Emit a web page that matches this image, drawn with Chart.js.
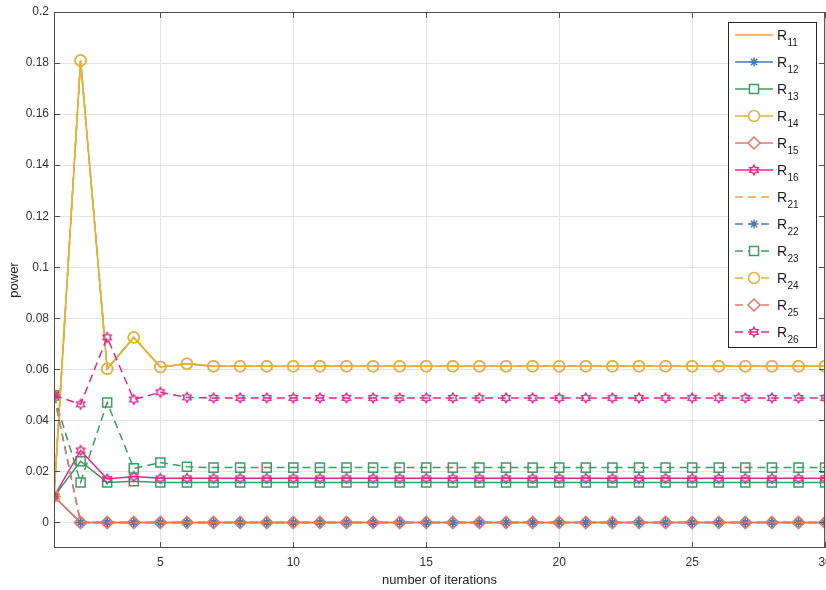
<!DOCTYPE html>
<html>
<head>
<meta charset="utf-8">
<script src="https://cdn.jsdelivr.net/npm/chart.js@4.4.0/dist/chart.umd.min.js"></script>
<style>
  html, body { margin: 0; padding: 0; background: #fff; overflow: hidden; }
  /* wider than the window: the right end of the axis is cut like in the figure */
  #wrap { width: 830px; height: 590px; position: relative; }
</style>
</head>
<body>
<div id="wrap"><canvas id="chart"></canvas></div>
<script>
// iterations (x) and tick values
const iterations = [1,2,3,4,5,6,7,8,9,10,11,12,13,14,15,16,17,18,19,20,21,22,23,24,25,26,27,28,29,30];
const xTicks = [5, 10, 15, 20, 25, 30];
const yTicks = [0, 0.02, 0.04, 0.06, 0.08, 0.1, 0.12, 0.14, 0.16, 0.18, 0.2];

// power per iteration
const r11 = [0.0102,0.181,0.0602,0.0725,0.0609,0.0622,0.0612,0.0612,0.0612,0.0612,0.0612,0.0612,0.0612,0.0612,0.0612,0.0612,0.0612,0.0612,0.0612,0.0612,0.0612,0.0612,0.0612,0.0612,0.0612,0.0612,0.0612,0.0612,0.0612,0.0612];
const r12 = [0.0102,0,0,0,0,0,0,0,0,0,0,0,0,0,0,0,0,0,0,0,0,0,0,0,0,0,0,0,0,0];
const r13 = [0.0102,0.0240,0.0157,0.0162,0.0157,0.0157,0.0157,0.0157,0.0157,0.0157,0.0157,0.0157,0.0157,0.0157,0.0157,0.0157,0.0157,0.0157,0.0157,0.0157,0.0157,0.0157,0.0157,0.0157,0.0157,0.0157,0.0157,0.0157,0.0157,0.0157];
const r14 = [0.0102,0.181,0.0602,0.0725,0.0609,0.0622,0.0612,0.0612,0.0612,0.0612,0.0612,0.0612,0.0612,0.0612,0.0612,0.0612,0.0612,0.0612,0.0612,0.0612,0.0612,0.0612,0.0612,0.0612,0.0612,0.0612,0.0612,0.0612,0.0612,0.0612];
const r15 = [0.0102,0,0,0,0,0,0,0,0,0,0,0,0,0,0,0,0,0,0,0,0,0,0,0,0,0,0,0,0,0];
const r16 = [0.0102,0.0282,0.0170,0.0180,0.0173,0.0173,0.0173,0.0173,0.0173,0.0173,0.0173,0.0173,0.0173,0.0173,0.0173,0.0173,0.0173,0.0173,0.0173,0.0173,0.0173,0.0173,0.0173,0.0173,0.0173,0.0173,0.0173,0.0173,0.0173,0.0173];
const r21 = [0.0102,0.181,0.0602,0.0725,0.0609,0.0622,0.0612,0.0612,0.0612,0.0612,0.0612,0.0612,0.0612,0.0612,0.0612,0.0612,0.0612,0.0612,0.0612,0.0612,0.0612,0.0612,0.0612,0.0612,0.0612,0.0612,0.0612,0.0612,0.0612,0.0612];
const r22 = [0.0498,0,0,0,0,0,0,0,0,0,0,0,0,0,0,0,0,0,0,0,0,0,0,0,0,0,0,0,0,0];
const r23 = [0.0498,0.0157,0.0470,0.0212,0.0235,0.0218,0.0215,0.0215,0.0215,0.0215,0.0215,0.0215,0.0215,0.0215,0.0215,0.0215,0.0215,0.0215,0.0215,0.0215,0.0215,0.0215,0.0215,0.0215,0.0215,0.0215,0.0215,0.0215,0.0215,0.0215];
const r24 = [0.0102,0.181,0.0602,0.0725,0.0609,0.0622,0.0612,0.0612,0.0612,0.0612,0.0612,0.0612,0.0612,0.0612,0.0612,0.0612,0.0612,0.0612,0.0612,0.0612,0.0612,0.0612,0.0612,0.0612,0.0612,0.0612,0.0612,0.0612,0.0612,0.0612];
const r25 = [0.0498,0,0,0,0,0,0,0,0,0,0,0,0,0,0,0,0,0,0,0,0,0,0,0,0,0,0,0,0,0];
const r26 = [0.0498,0.0463,0.0725,0.0482,0.0510,0.0490,0.0488,0.0488,0.0488,0.0488,0.0488,0.0488,0.0488,0.0488,0.0488,0.0488,0.0488,0.0488,0.0488,0.0488,0.0488,0.0488,0.0488,0.0488,0.0488,0.0488,0.0488,0.0488,0.0488,0.0488];

const ORANGE = '#E9A23C', BLUE = '#4A79B2', GREEN = '#3E9B63', GOLD = '#E0B23E', SALMON = '#E27868', MAGENTA = '#E0288A';
const AXIS = '#4d4d4d';
const PLOT_RIGHT = 825;
Chart.defaults.font.family = '"Liberation Sans", Arial, sans-serif';

// matlab-ish hexagram marker
function hexagram(color) {
  const c = document.createElement('canvas');
  c.width = 14; c.height = 14;
  const g = c.getContext('2d');
  g.strokeStyle = color;
  g.lineWidth = 1.4;
  const R = 4.8, r = R / Math.sqrt(3);
  g.beginPath();
  for (let k = 0; k < 12; k++) {
    const a = -Math.PI / 2 + k * Math.PI / 6;
    const rad = k % 2 ? r : R;
    const px = 7 + rad * Math.cos(a), py = 7 + rad * Math.sin(a);
    k ? g.lineTo(px, py) : g.moveTo(px, py);
  }
  g.closePath();
  g.stroke();
  return c;
}
const hexMag = hexagram(MAGENTA);

const series = [
  { name: '11', data: r11, color: ORANGE, dash: [], style: 'circle', radius: 0 },
  { name: '12', data: r12, color: BLUE, dash: [], style: 'star', radius: 4.5 },
  { name: '13', data: r13, color: GREEN, dash: [], style: 'rect', radius: 6.4 },
  { name: '14', data: r14, color: GOLD, dash: [], style: 'circle', radius: 5.5 },
  { name: '15', data: r15, color: SALMON, dash: [], style: 'rectRot', radius: 6 },
  { name: '16', data: r16, color: MAGENTA, dash: [], style: hexMag, radius: 5 },
  { name: '21', data: r21, color: ORANGE, dash: [8, 5], style: 'circle', radius: 0 },
  { name: '22', data: r22, color: BLUE, dash: [8, 5], style: 'star', radius: 4.5 },
  { name: '23', data: r23, color: GREEN, dash: [8, 5], style: 'rect', radius: 6.4 },
  { name: '24', data: r24, color: GOLD, dash: [8, 5], style: 'circle', radius: 5.5 },
  { name: '25', data: r25, color: SALMON, dash: [8, 5], style: 'rectRot', radius: 6 },
  { name: '26', data: r26, color: MAGENTA, dash: [8, 5], style: hexMag, radius: 5 }
];

// box with inward ticks on all four sides
const framePlugin = {
  id: 'frame',
  afterDatasetsDraw(chart) {
    const { ctx, chartArea: a, scales: { x, y } } = chart;
    ctx.save();
    ctx.strokeStyle = AXIS;
    ctx.lineWidth = 1;
    ctx.strokeRect(a.left + 0.5, a.top + 0.5, a.right - a.left - 1, a.bottom - a.top - 1);
    ctx.beginPath();
    xTicks.forEach(v => {
      const px = Math.round(x.getPixelForValue(v)) + 0.5;
      ctx.moveTo(px, a.bottom); ctx.lineTo(px, a.bottom - 6);
      ctx.moveTo(px, a.top); ctx.lineTo(px, a.top + 6);
    });
    yTicks.forEach(v => {
      const py = Math.round(y.getPixelForValue(v)) + 0.5;
      ctx.moveTo(a.left, py); ctx.lineTo(a.left + 6, py);
      ctx.moveTo(a.right, py); ctx.lineTo(a.right - 6, py);
    });
    ctx.stroke();
    ctx.restore();
  }
};

// legend with subscripts, drawn by hand
const legendPlugin = {
  id: 'subLegend',
  afterDraw(chart) {
    const ctx = chart.ctx;
    const bx = 728, by = 22, bw = 88, bh = 325;
    ctx.save();
    ctx.fillStyle = '#fff';
    ctx.fillRect(bx, by, bw, bh);
    ctx.strokeStyle = '#262626';
    ctx.lineWidth = 1;
    ctx.strokeRect(bx + 0.5, by + 0.5, bw, bh);
    series.forEach((s, i) => {
      const ly = 35 + i * 27;
      ctx.strokeStyle = s.color;
      ctx.lineWidth = 1.5;
      ctx.setLineDash(s.dash.length ? [8, 5] : []);
      ctx.beginPath();
      ctx.moveTo(735, ly); ctx.lineTo(773, ly);
      ctx.stroke();
      ctx.setLineDash([]);
      if (s.radius > 0) {
        ctx.fillStyle = '#fff';
        ctx.strokeStyle = s.color;
        ctx.lineWidth = 1.5;
        Chart.helpers.drawPoint(ctx, { pointStyle: s.style, radius: s.radius, borderWidth: 1.5, rotation: 0 }, 754, ly);
      }
      ctx.fillStyle = '#1a1a1a';
      ctx.textBaseline = 'alphabetic';
      ctx.textAlign = 'left';
      ctx.font = '14px "Liberation Sans", Arial, sans-serif';
      ctx.fillText('R', 777, ly + 5);
      ctx.font = '10px "Liberation Sans", Arial, sans-serif';
      ctx.fillText(s.name, 787.5, ly + 11);
    });
    ctx.restore();
  }
};

const chart = new Chart(document.getElementById('chart'), {
  type: 'line',
  data: {
    datasets: series.map((s, i) => ({
      label: 'R' + s.name,
      data: s.data.map((v, k) => ({ x: iterations[k], y: v })),
      borderColor: s.color,
      borderWidth: 1.5,
      borderDash: s.dash,
      pointStyle: s.style,
      pointRadius: s.radius,
      pointBorderColor: s.color,
      pointBackgroundColor: 'rgba(0,0,0,0)',
      pointBorderWidth: 1.5,
      fill: false,
      tension: 0,
      order: series.length - i
    }))
  },
  options: {
    responsive: true,
    maintainAspectRatio: false,
    animation: false,
    events: [],
    layout: { padding: { top: 12, right: 0, left: 0, bottom: 0 } },
    plugins: { legend: { display: false }, tooltip: { enabled: false } },
    scales: {
      x: {
        type: 'linear',
        min: 1,
        max: 30,
        afterBuildTicks: s => { s.ticks = xTicks.map(v => ({ value: v })); },
        afterFit: s => { s.height = 42; s.paddingLeft = 0; s.paddingRight = 0; },
        grid: { color: '#e3e3e3', drawTicks: false },
        border: { display: false },
        ticks: { color: '#333', font: { size: 12 }, padding: 7, maxRotation: 0 },
        title: { display: true, text: 'number of iterations', color: '#262626', font: { size: 13 }, padding: { top: 0, bottom: 2 } }
      },
      y: {
        min: -0.01,
        max: 0.2,
        afterBuildTicks: s => { s.ticks = yTicks.map(v => ({ value: v })); },
        afterFit: s => { s.width = 54; s.paddingTop = 0; s.paddingBottom = 0; },
        grid: { color: '#e3e3e3', drawTicks: false },
        border: { display: false },
        ticks: { color: '#333', font: { size: 12 }, padding: 5, callback: v => String(parseFloat(Number(v).toFixed(2))) },
        title: { display: true, text: 'power', color: '#262626', font: { size: 13 }, padding: { top: 7, bottom: 0 } }
      }
    }
  },
  plugins: [framePlugin, legendPlugin]
});

// push the right edge of the plot box to the window edge (whole pixels only)
const wrap = document.getElementById('wrap');
for (let k = 0; k < 2; k++) {
  const extra = Math.round(PLOT_RIGHT - chart.chartArea.right);
  if (!extra) break;
  wrap.style.width = (Math.round(wrap.getBoundingClientRect().width) + extra) + 'px';
  chart.resize();
}
</script>
</body>
</html>
